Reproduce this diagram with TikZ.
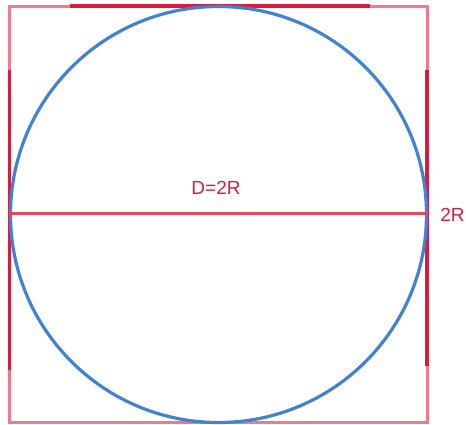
\documentclass[tikz,border=0pt]{standalone}
\usepackage{fontspec}
\setmainfont{Liberation Sans}
\definecolor{darkred}{HTML}{D91C3E}
\definecolor{lightred}{HTML}{F07A8A}
\definecolor{midred}{HTML}{E04A60}
\definecolor{circblue}{HTML}{4282D2}
\begin{document}
\begin{tikzpicture}[x=1pt,y=-1pt,
  lightedge/.style={draw=lightred,line width=3pt},
  darkedge/.style={draw=darkred,line width=3.2pt},
  lbl/.style={text=darkred,font=\fontsize{19}{21}\selectfont,inner sep=0pt}]
\useasboundingbox (0,0) rectangle (466,424);
\coordinate (tl) at (9.5,6);
\coordinate (tr) at (427,6);
\coordinate (bl) at (9.5,422.5);
\coordinate (br) at (427,422.5);
% light full square
\draw[lightedge] (tl) -- (tr) -- (br) -- (bl) -- cycle;
% dark middle segments
\coordinate (t1) at (70,6); \coordinate (t2) at (370,6);
\coordinate (l1) at (9.5,70); \coordinate (l2) at (9.5,370);
\coordinate (r1) at (427,70); \coordinate (r2) at (427,366);
\draw[darkedge] (t1) -- (t2);
\draw[darkedge] (l1) -- (l2);
\draw[darkedge] (r1) -- (r2);
% circle
\coordinate (c) at (218.5,214.5);
\draw[draw=circblue,line width=3.2pt] (c) circle[radius=208];
% diameter
\coordinate (dl) at (10,213.5);
\coordinate (dr) at (427,213.5);
\draw[draw=midred,line width=2.4pt] (dl) -- (dr);
\node[lbl] (d) at (216,188) {D=2R};
\node[lbl] (s) at (452.5,215) {2R};
\end{tikzpicture}
\end{document}
